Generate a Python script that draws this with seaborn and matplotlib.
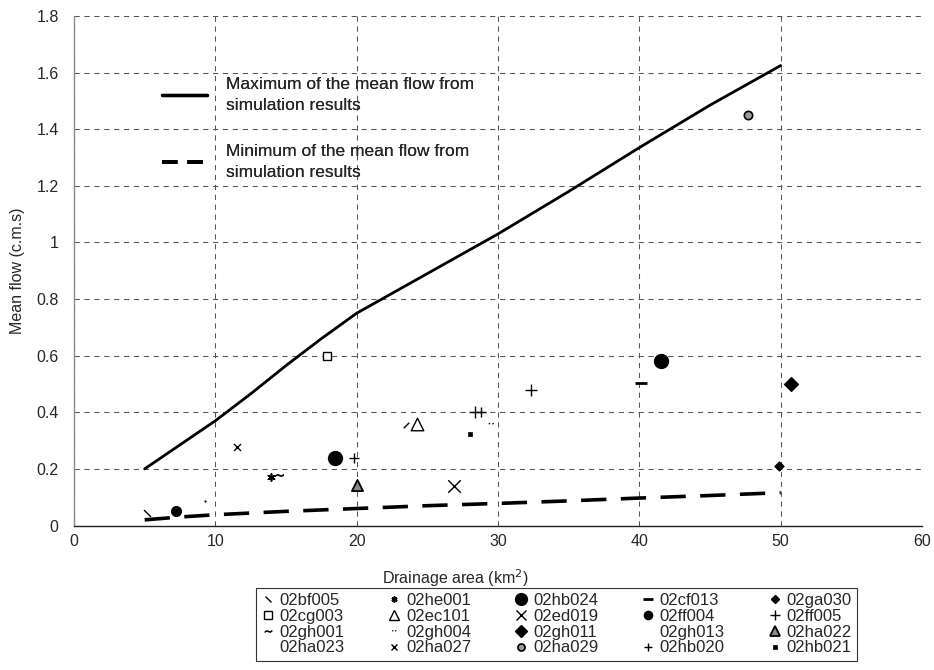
import numpy as np
import pandas as pd
import matplotlib
matplotlib.use("Agg")
import matplotlib.pyplot as plt
from matplotlib.lines import Line2D
from matplotlib.path import Path
import seaborn as sns

# ---------------- data ----------------
sim_area = [5, 7.5, 10, 12.5, 15, 17.5, 20, 25, 30, 35, 40, 45, 50]
sim_max = [0.20, 0.285, 0.37, 0.465, 0.565, 0.66, 0.75, 0.89, 1.03, 1.18, 1.335, 1.485, 1.625]
sim_min = [0.02, 0.03, 0.038, 0.044, 0.05, 0.055, 0.06, 0.07, 0.078, 0.087, 0.097, 0.106, 0.116]

obs_station = ["02bf005", "02ff004", "02ha023", "02ha027", "02he001", "02gh001",
               "02cg003", "02hb024", "02hb020", "02ha022", "02gh013", "02ec101",
               "02ed019", "02hb021", "02ff005", "02hb020", "02gh004", "02ff005",
               "02cf013", "02hb024", "02ha029", "02ga030", "02gh011"]
obs_area = [5.2, 7.2, 9.3, 11.5, 13.95, 14.5,
            17.9, 18.5, 19.8, 20.05, 23.5, 24.3,
            26.9, 28.0, 28.4, 28.8, 29.5, 32.3,
            40.1, 41.5, 47.7, 49.9, 50.7]
obs_flow = [0.045, 0.051, 0.087, 0.277, 0.172, 0.178,
            0.599, 0.24, 0.24, 0.143, 0.355, 0.358,
            0.14, 0.322, 0.40, 0.40, 0.359, 0.479,
            0.502, 0.582, 1.452, 0.211, 0.50]

# legend order (column-major, 4 rows x 5 columns)
stations = ["02bf005", "02cg003", "02gh001", "02ha023",
            "02he001", "02ec101", "02gh004", "02ha027",
            "02hb024", "02ed019", "02gh011", "02ha029",
            "02cf013", "02ff004", "02gh013", "02hb020",
            "02ga030", "02ff005", "02ha022", "02hb021"]

x_ticks = [0, 10, 20, 30, 40, 50, 60]
y_ticks = [0, 0.2, 0.4, 0.6, 0.8, 1.0, 1.2, 1.4, 1.6, 1.8]

# ---------------- styles ----------------
bslash = Path([(-1, 1), (1, -1)], [Path.MOVETO, Path.LINETO])
fslash = Path([(-1, -1), (1, 1)], [Path.MOVETO, Path.LINETO])
ticks2 = Path([(-1, 0.1), (-0.5, 0.5), (0.3, 0.1), (0.8, 0.5)],
              [Path.MOVETO, Path.LINETO, Path.MOVETO, Path.LINETO])
tilde = "$\\sim$"

# marker, size(pt), facecolor, edgewidth, legend-visible
styles = {
    "02bf005": (bslash, 5, "black", 1.0, True),
    "02cg003": ("s", 6, "white", 1.0, True),
    "02gh001": (tilde, 6, "black", 0.5, True),
    "02ha023": (".", 2, "black", 0.5, False),
    "02he001": ((6, 2, 0), 5, "black", 1.2, True),
    "02ec101": ("^", 9, "white", 1.0, True),
    "02gh004": (ticks2, 4, "black", 0.8, True),
    "02ha027": ("x", 5, "black", 1.0, True),
    "02hb024": ("o", 10, "black", 1.0, True),
    "02ed019": ("x", 9, "black", 1.0, True),
    "02gh011": ("D", 7, "black", 1.0, True),
    "02ha029": ("o", 6, "#9a9a9a", 1.2, True),
    "02cf013": ("_", 8, "black", 2.0, True),
    "02ff004": ("o", 7, "black", 1.0, True),
    "02gh013": (fslash, 4, "black", 1.0, False),
    "02hb020": ("+", 7, "black", 1.0, True),
    "02ga030": ("D", 4.5, "black", 1.0, True),
    "02ff005": ("+", 9, "black", 1.0, True),
    "02ha022": ("^", 8, "#8a8a8a", 1.3, True),
    "02hb021": ("s", 3, "black", 0.5, True),
}

sns.set_style("white")
plt.rcParams["font.family"] = ["Liberation Sans", "DejaVu Sans"]

fig = plt.figure(figsize=(9.34, 6.70), dpi=100)
ax = fig.add_axes([74 / 934, 1 - 525.5 / 670, 848 / 934, 509.5 / 670])

# gridlines
ax.set_xlim(0, 60)
ax.set_ylim(0, 1.8)
ax.set_xticks(x_ticks)
ax.set_yticks(y_ticks)
ax.grid(True, color="#555555", linestyle=(0, (5, 4.5)), linewidth=0.75)
ax.set_axisbelow(True)

sim = pd.DataFrame({"area": sim_area, "max": sim_max, "min": sim_min})
sns.lineplot(data=sim, x="area", y="max", ax=ax, color="black", linewidth=2.0,
             legend=False, zorder=3)
sns.lineplot(data=sim, x="area", y="min", ax=ax, color="black", linewidth=2.6,
             legend=False, zorder=3)
ax.lines[-1].set_linestyle((0, (7, 4)))

obs = pd.DataFrame({"station": obs_station, "area": obs_area, "flow": obs_flow})
for st in stations:
    sub = obs[obs["station"] == st]
    if sub.empty:
        continue
    m, ms, fc, lw, _ = styles[st]
    sns.scatterplot(data=sub, x="area", y="flow", ax=ax, marker=m, s=ms ** 2,
                    color=fc, edgecolor="black", linewidth=lw, legend=False,
                    zorder=4)

ax.set_xticklabels([f"{v:g}" for v in x_ticks], fontsize=11.5)
ax.set_yticklabels([f"{v:g}" for v in y_ticks], fontsize=11.5)
ax.tick_params(axis="x", length=0, pad=6)
ax.tick_params(axis="y", length=0, pad=11)
for s in ["top", "right"]:
    ax.spines[s].set_visible(False)
ax.spines["left"].set_color("#8a8a8a")
ax.spines["bottom"].set_color("#222222")
ax.spines["left"].set_linewidth(1.0)
ax.spines["bottom"].set_linewidth(1.0)

ax.set_ylabel("Mean flow (c.m.s)", fontsize=11.5)
ax.set_xlabel("Drainage area (km$^2$)", fontsize=11.5)
ax.xaxis.set_label_coords(0.45, -0.082)
ax.yaxis.set_label_coords(-0.058, 0.5)

# inner legend for the simulation lines
sim_handles = [Line2D([], [], color="black", lw=2.4),
               Line2D([], [], color="black", lw=2.8, linestyle=(0, (4, 2.5)))]
sim_labels = ["Maximum of the mean flow from\nsimulation results",
              "Minimum of the mean flow from\nsimulation results"]
leg1 = ax.legend(sim_handles, sim_labels, loc="upper left",
                 bbox_to_anchor=(0.085, 0.91), frameon=False, fontsize=12.5,
                 handlelength=2.6, handletextpad=1.1, labelspacing=1.8)
for t in leg1.get_texts():
    t.set_linespacing(1.45)
ax.add_artist(leg1)

# station legend below
handles = []
for st in stations:
    m, ms, fc, lw, vis = styles[st]
    if vis:
        handles.append(Line2D([], [], linestyle="none", marker=m, markersize=ms * 0.85,
                              markerfacecolor=fc, markeredgecolor="black",
                              markeredgewidth=lw, color="black"))
    else:
        handles.append(Line2D([], [], linestyle="none", marker="none"))
leg2 = fig.legend(handles, stations, loc="upper left",
                  bbox_to_anchor=(256 / 934, 1 - 588 / 670), ncol=5,
                  fontsize=12, frameon=True, fancybox=False, edgecolor="black",
                  handlelength=0.8, handletextpad=0.3, columnspacing=2.6,
                  labelspacing=0.05, borderpad=0.3, borderaxespad=0)
leg2.get_frame().set_linewidth(0.8)

fig.savefig("out.png", dpi=100)
